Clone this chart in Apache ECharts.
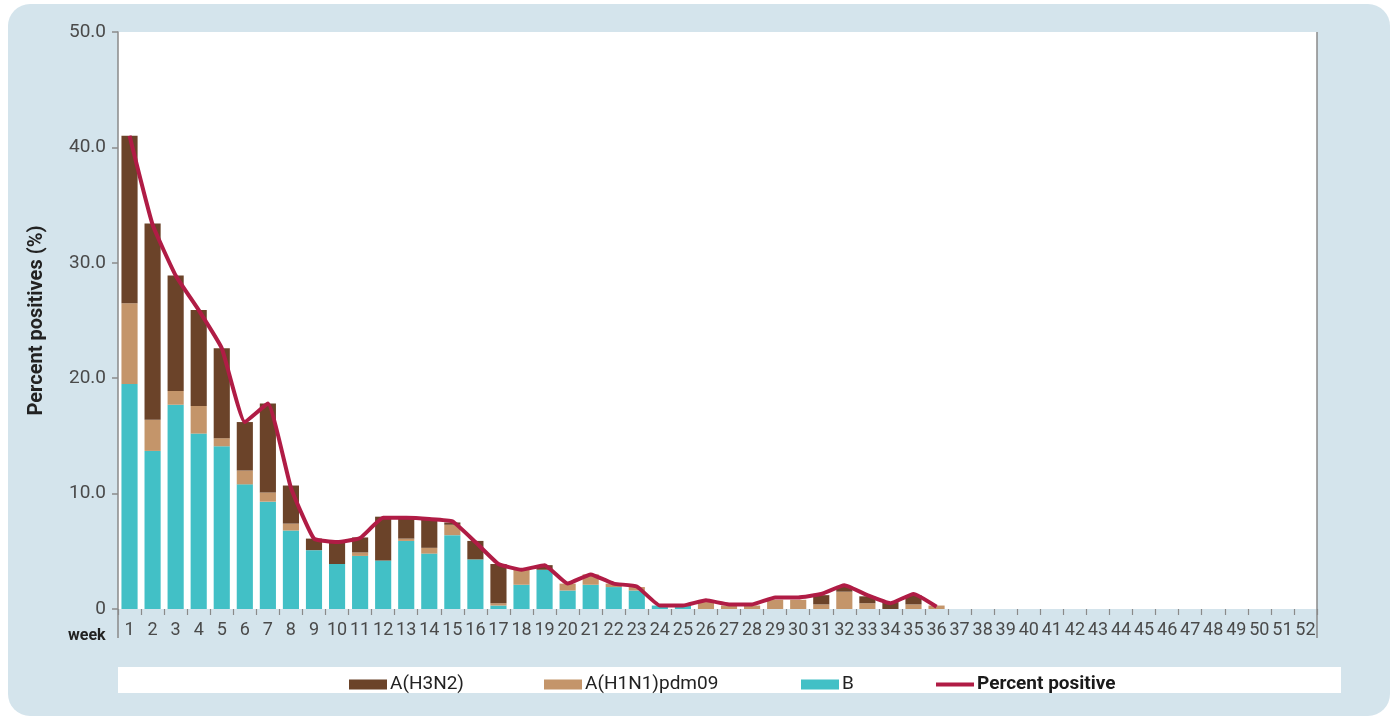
<!DOCTYPE html>
<html>
<head>
<meta charset="utf-8">
<title>Influenza percent positives by week</title>
<script src="https://cdn.jsdelivr.net/npm/echarts@6/dist/echarts.min.js"></script>
<style>
  html, body { margin: 0; padding: 0; background: #ffffff; }
  #chart { width: 1394px; height: 718px; }
</style>
</head>
<body>
<div id="chart"></div>
<script>
// Surveillance weeks 1..52
const weeks = Array.from({ length: 52 }, (_, i) => String(i + 1));

// Share of positives by virus type (weeks 1..36 reported)
const typeB = [19.5, 13.7, 17.7, 15.2, 14.1, 10.8, 9.3, 6.8, 5.1, 3.9, 4.6, 4.2, 5.9, 4.8, 6.4, 4.3, 0.3, 2.1,
  3.4, 1.6, 2.1, 1.9, 1.6, 0.3, 0.3, 0, 0, 0, 0, 0, 0, 0, 0, 0, 0, 0];
const h1n1 = [7.0, 2.7, 1.2, 2.4, 0.7, 1.2, 0.8, 0.6, 0, 0, 0.3, 0, 0.2, 0.5, 0.9, 0, 0.2, 1.3,
  0, 0.6, 0.9, 0.3, 0.3, 0, 0, 0.6, 0.3, 0.3, 0.8, 0.8, 0.4, 1.5, 0.5, 0, 0.4, 0.3];
const h3n2 = [14.5, 17.0, 10.0, 8.3, 7.8, 4.2, 7.7, 3.3, 1.0, 1.9, 1.3, 3.8, 1.7, 2.5, 0.2, 1.6, 3.4, 0,
  0.4, 0, 0, 0, 0, 0, 0, 0, 0, 0, 0, 0, 0.8, 0.5, 0.6, 0.6, 0.8, 0];
const percentPositive = [41.0, 33.3, 28.9, 25.9, 22.6, 16.2, 17.8, 10.5, 6.1, 5.8, 6.15, 7.9, 7.9, 7.8, 7.6, 5.8,
  3.9, 3.4, 3.8, 2.2, 3.0, 2.2, 1.95, 0.3, 0.3, 0.75, 0.4, 0.4, 1.0, 1.0, 1.3, 2.05, 1.2, 0.5, 1.3, 0.2];

// Y axis ticks
const yTicks = [0, 10, 20, 30, 40, 50];

const seriesNames = ['A(H3N2)', 'A(H1N1)pdm09', 'B', 'Percent positive'];
const colors = { h3n2: '#6b4329', h1n1: '#c4956a', b: '#42c0c6', line: '#b01c45' };

// Pad to all 52 weeks
const pad = arr => weeks.map((_, i) => (i < arr.length ? arr[i] : null));

const FONT = 'Roboto, "Noto Sans", sans-serif';

// Frame geometry
const G = { left: 118, right: 1317, top: 32, bottom: 609 };

// One legend box per entry, placed along the strip under the axis
const legendLefts = [344, 539, 796, 929];
const legendEntry = (item, i, bold) => ({
  data: [item],
  left: legendLefts[i], top: 670,
  itemWidth: 38, itemHeight: 10,
  textStyle: {
    fontFamily: FONT, fontSize: 19, padding: [0, 0, 0, -2],
    fontWeight: bold ? 'bold' : 'normal', color: bold ? '#1a1a1a' : '#222222'
  }
});

const chart = echarts.init(document.getElementById('chart'), null, { renderer: 'canvas' });

chart.setOption({
  animation: false,
  textStyle: { fontFamily: FONT },
  grid: {
    left: G.left, right: 1394 - G.right, top: G.top, bottom: 718 - G.bottom,
    show: true, backgroundColor: '#ffffff', borderWidth: 0
  },
  legend: [
    legendEntry({ name: seriesNames[0], icon: 'rect' }, 0, false),
    legendEntry({ name: seriesNames[1], icon: 'rect' }, 1, false),
    legendEntry({ name: seriesNames[2], icon: 'rect' }, 2, false),
    legendEntry({
      name: seriesNames[3],
      itemStyle: { color: 'rgba(0,0,0,0)', borderWidth: 0, opacity: 0 },
      lineStyle: { color: colors.line, width: 4 }
    }, 3, true)
  ],
  xAxis: {
    type: 'category',
    data: weeks,
    boundaryGap: true,
    axisLine: { show: false },
    axisTick: { show: true, length: 6, lineStyle: { color: '#8a8a8a', width: 1.2 }, alignWithLabel: false },
    axisLabel: { interval: 0, margin: 12, fontFamily: FONT, fontSize: 18, color: '#4a4a4a' },
    splitLine: { show: false }
  },
  yAxis: {
    type: 'value',
    min: yTicks[0], max: yTicks[yTicks.length - 1], interval: 10,
    name: 'Percent positives (%)',
    nameLocation: 'middle',
    nameGap: 71,
    nameTextStyle: { fontFamily: FONT, fontSize: 20, fontWeight: 'bold', color: '#222222' },
    axisLine: { show: true, lineStyle: { color: '#8a8a8a', width: 1.5 } },
    axisTick: { show: true, length: 6, lineStyle: { color: '#8a8a8a', width: 1.5 } },
    axisLabel: {
      margin: 12, fontFamily: FONT, fontSize: 19, color: '#4a4a4a',
      formatter: v => (v === 0 ? '0' : v.toFixed(1))
    },
    splitLine: { show: false }
  },
  graphic: [
    // rounded panel behind everything
    { type: 'rect', z: -100, shape: { x: 8, y: 4, width: 1382, height: 712, r: 22 }, style: { fill: '#d4e4ec' } },
    // legend strip
    { type: 'rect', z: -50, shape: { x: G.left, y: 667, width: 1341 - G.left, height: 26 }, style: { fill: '#ffffff' } },
    // frame lines extending below the plot
    { type: 'line', z: 10, shape: { x1: G.left, y1: G.bottom, x2: G.left, y2: 638 }, style: { stroke: '#8a8a8a', lineWidth: 1.5 } },
    { type: 'line', z: 10, shape: { x1: G.right, y1: G.top, x2: G.right, y2: 638 }, style: { stroke: '#8a8a8a', lineWidth: 1.5 } },
    // category axis title
    { type: 'text', z: 10, left: 68, top: 628, style: { text: 'week', fontFamily: FONT, fontSize: 16, fontWeight: 'bold', fill: '#222222' } }
  ],
  series: [
    { name: 'B', type: 'bar', stack: 'pos', barCategoryGap: '30%', data: pad(typeB), itemStyle: { color: colors.b } },
    { name: 'A(H1N1)pdm09', type: 'bar', stack: 'pos', data: pad(h1n1), itemStyle: { color: colors.h1n1 } },
    { name: 'A(H3N2)', type: 'bar', stack: 'pos', data: pad(h3n2), itemStyle: { color: colors.h3n2 } },
    {
      name: 'Percent positive', type: 'line', data: pad(percentPositive),
      symbol: 'none', smooth: 0.12, z: 5,
      lineStyle: { color: colors.line, width: 4 },
      itemStyle: { color: colors.line }
    }
  ]
});
</script>
</body>
</html>
